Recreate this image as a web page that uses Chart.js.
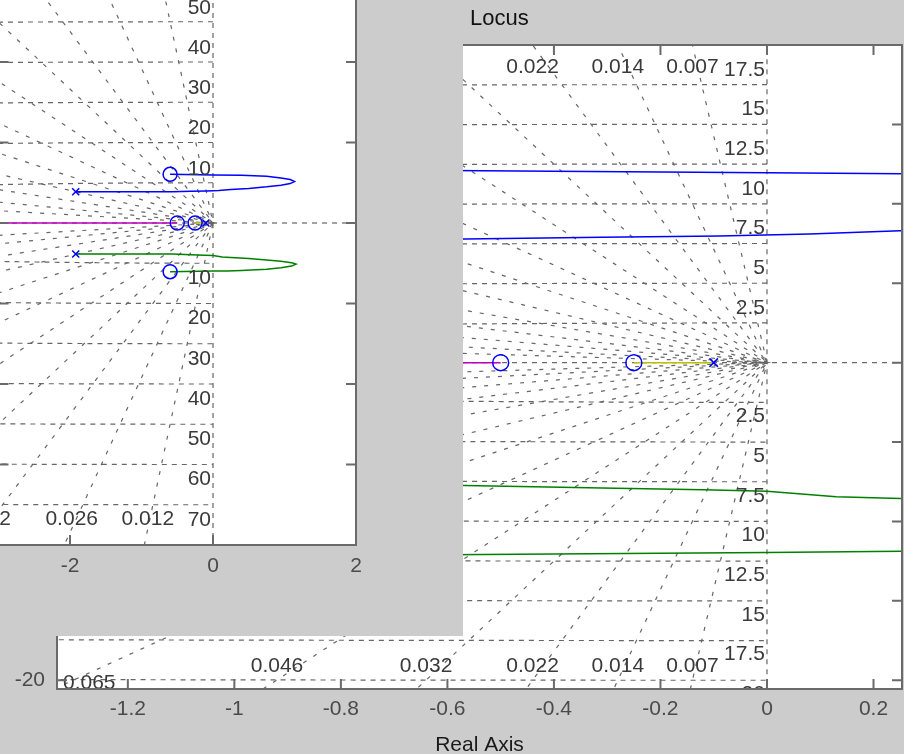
<!DOCTYPE html>
<html><head><meta charset="utf-8">
<script src="https://cdn.jsdelivr.net/npm/chart.js@4/dist/chart.umd.min.js"></script>
<style>
html,body{margin:0;padding:0;background:#cccccc;width:904px;height:754px;overflow:hidden;position:relative;}
#bigwrap{position:absolute;left:0;top:0;width:904px;height:754px;z-index:1;}
#cover{position:absolute;left:0;top:0;width:463px;height:636px;background:#cccccc;z-index:2;}
#smallwrap{position:absolute;left:-60px;top:-119px;width:430px;height:700px;z-index:3;}
#locus{position:absolute;left:470px;top:6px;font:22px "Liberation Sans",Arial,sans-serif;line-height:24px;color:#111;z-index:4;}
</style></head><body>
<div id="bigwrap"><canvas id="big" width="904" height="754"></canvas></div>
<div id="cover"></div>
<div id="smallwrap"><canvas id="small" width="430" height="700"></canvas></div>
<div id="locus">Locus</div>
<script>
const FONT = '"Liberation Sans", Arial, Helvetica, sans-serif';

// ---- root locus branches (real part, imaginary part) ----
const blueRe  = [-1.92,-1.2,-0.567,-0.31,-0.09,0.08,0.25,0.5,0.75,0.95,1.08,1.14,1.08,0.95,0.75,0.4,0.0,-0.6];
const blueIm  = [7.75,7.77,7.79,7.9,7.98,8.1,8.3,8.6,9.0,9.4,9.8,10.3,10.8,11.2,11.6,11.85,11.95,12.1];
const greenRe = [-1.92,-1.2,-0.567,-0.31,-0.12,0.0,0.13,0.25,0.5,0.75,0.95,1.1,1.16,1.1,0.95,0.75,0.4,0.2,0.0,-0.6];
const greenIm = [-7.7,-7.72,-7.73,-7.9,-8.0,-8.1,-8.45,-8.55,-8.8,-9.2,-9.5,-9.9,-10.2,-10.7,-11.1,-11.5,-11.8,-11.9,-11.95,-12.1];
const magentaRe = [-10,-0.5];
const magentaIm = [0,0];
const yellowRe  = [-0.25,-0.1];
const yellowIm  = [0,0];
const poleRe = [-1.92,-1.92,-0.1];
const poleIm = [7.75,-7.7,0];
const zeroRe = [-0.6,-0.6,-0.5,-0.25];
const zeroIm = [12.1,-12.1,0,0];

// ---- s-plane grid (natural frequency / damping) ----
const wnZoom = [2.5,5,7.5,10,12.5,15,17.5,20];
const wnZoomLabels = ['2.5','5','7.5','10','12.5','15','17.5','20'];
const zetaZoom = [0.007,0.014,0.022,0.032,0.046,0.065,0.09,0.125,0.17,0.24,0.34,0.5,0.7];
const zetaZoomLabels = ['0.007','0.014','0.022','0.032','0.046','0.065'];
const wnWide = [10,20,30,40,50,60,70,80];
const wnWideLabels = ['10','20','30','40','50','60','70','80'];
const zetaWide = [0.012,0.026,0.042,0.06,0.085,0.12,0.17,0.24,0.34,0.5,0.7];
const zetaWideLabels = ['0.012','0.026','0.042'];

// ---- axis ticks ----
const xTicksZoom = [-1.2,-1,-0.8,-0.6,-0.4,-0.2,0,0.2];
const yTicksZoom = [-20,-15,-10,-5,0,5,10,15,20];
const xTicksWide = [-2,0,2];
const yTicksWide = [-80,-60,-40,-20,0,20,40,60,80];

const pts = (re, im) => re.map((v, i) => ({x: v, y: im[i]}));
const fmt = v => String(Math.round(v * 1000) / 1000);

function buildSets(wnList, zetaList, R, mk) {
  const sets = [];
  sets.push({data: pts(poleRe, poleIm), showLine: false, pointStyle: 'crossRot', pointRadius: mk.x,
    pointBorderColor: '#0000ff', pointBackgroundColor: '#0000ff', pointBorderWidth: 1.5, order: 0});
  sets.push({data: pts(zeroRe, zeroIm), showLine: false, pointStyle: 'circle', pointRadius: mk.o,
    pointBorderColor: '#0000ff', pointBackgroundColor: 'rgba(0,0,0,0)', pointBorderWidth: 1.5, order: 0});
  const line = (re, im, c) => ({data: pts(re, im), showLine: true, pointRadius: 0, borderColor: c,
    borderWidth: 1.5, order: 1, tension: 0});
  sets.push(line(blueRe, blueIm, '#0000ff'), line(greenRe, greenIm, '#008000'),
            line(magentaRe, magentaIm, '#bf00bf'), line(yellowRe, yellowIm, '#bfbf00'));
  const g = {showLine: true, pointRadius: 0, borderColor: '#666666', borderWidth: 1.2, order: 2, tension: 0};
  wnList.forEach(wn => {
    const d = [];
    for (let k = 0; k <= 720; k++) {
      const t = Math.PI / 2 + Math.PI * k / 720;
      d.push({x: wn * Math.cos(t), y: wn * Math.sin(t)});
    }
    sets.push({...g, data: d, borderDash: [5, 5]});
  });
  zetaList.forEach(z => {
    const s = Math.sqrt(1 - z * z);
    sets.push({...g, data: [{x: -z * R, y: s * R}, {x: 0, y: 0}, {x: -z * R, y: -s * R}], borderDash: [4, 8]});
  });
  sets.push({...g, data: [{x: -1000, y: 0}, {x: 1000, y: 0}], borderDash: [5, 5]});
  sets.push({...g, data: [{x: 0, y: -1000}, {x: 0, y: 1000}], borderDash: [5, 5]});
  return sets;
}

const rlPlugin = {
  id: 'rl',
  beforeDraw(chart) {
    const {ctx, chartArea: a} = chart;
    ctx.save();
    ctx.fillStyle = '#ffffff';
    ctx.fillRect(a.left, a.top, a.right - a.left, a.bottom - a.top);
    ctx.restore();
  },
  afterDatasetsDraw(chart, args, o) {
    const {ctx, chartArea: a} = chart;
    const x = chart.scales.x, y = chart.scales.y;
    ctx.save();
    ctx.beginPath();
    ctx.rect(a.left, a.top, a.right - a.left, a.bottom - a.top);
    ctx.clip();
    ctx.font = '21px ' + FONT;
    ctx.fillStyle = '#3a3a3a';
    ctx.textBaseline = 'middle';
    ctx.textAlign = 'right';
    const x0 = x.getPixelForValue(0) - 2;
    o.wnVals.forEach((wn, i) => {
      ctx.fillText(o.wnText[i], x0, y.getPixelForValue(wn) - o.wnUp);
      ctx.fillText(o.wnText[i], x0, y.getPixelForValue(-wn) + o.wnDown);
    });
    ctx.textAlign = 'center';
    o.zText.forEach((t, i) => {
      const z = o.zVals[i];
      let px = x.getPixelForValue(-z * o.zR);
      let yb = y.getPixelForValue(-o.zRow) - o.zBotOff;
      if (o.zClamp) {
        const half = ctx.measureText(t).width / 2;
        if (px - half < a.left + 6) { px = a.left + 6 + half; yb += 17; }
      }
      ctx.fillText(t, px, y.getPixelForValue(o.zRow) + o.zTopOff);
      ctx.fillText(t, px, yb);
    });
    ctx.restore();
    // axes box with inward ticks
    ctx.save();
    ctx.strokeStyle = '#6a6a6a';
    ctx.lineWidth = 2;
    ctx.strokeRect(a.left, a.top, a.right - a.left, a.bottom - a.top);
    ctx.beginPath();
    o.xt.forEach(v => {
      const p = x.getPixelForValue(v);
      ctx.moveTo(p, a.bottom); ctx.lineTo(p, a.bottom - o.tl);
      ctx.moveTo(p, a.top); ctx.lineTo(p, a.top + o.tl);
    });
    o.yt.forEach(v => {
      const p = y.getPixelForValue(v);
      ctx.moveTo(a.left, p); ctx.lineTo(a.left + o.tl, p);
      ctx.moveTo(a.right, p); ctx.lineTo(a.right - o.tl, p);
    });
    ctx.stroke();
    ctx.restore();
  }
};

const noPadX = h => s => { s.height = h; s.paddingLeft = 0; s.paddingRight = 0; };
const noPadY = w => s => { s.width = w; s.paddingTop = 0; s.paddingBottom = 0; };

// ---- zoomed root locus (right and bottom) ----
new Chart(document.getElementById('big'), {
  type: 'scatter',
  data: {datasets: buildSets(wnZoom, zetaZoom, 40, {x: 6, o: 8})},
  plugins: [rlPlugin],
  options: {
    responsive: false, maintainAspectRatio: false, animation: false, events: [],
    layout: {autoPadding: false, padding: {top: 45, right: 2, left: 0, bottom: 0}},
    plugins: {
      legend: {display: false}, tooltip: {enabled: false},
      rl: {wnVals: wnZoom, wnText: wnZoomLabels, wnUp: 15, wnDown: 14,
           zVals: zetaZoom, zText: zetaZoomLabels, zR: 20, zRow: 20, zTopOff: 22, zBotOff: 14, zClamp: true,
           xt: xTicksZoom, yt: yTicksZoom, tl: 10}
    },
    scales: {
      x: {type: 'linear', min: -1.333, max: 0.2535,
          afterBuildTicks: s => { s.ticks = xTicksZoom.map(v => ({value: v})); },
          afterFit: noPadX(65),
          grid: {display: false, drawTicks: false}, border: {display: false},
          ticks: {font: {size: 21, family: FONT}, color: '#4a4a4a', padding: 8, maxRotation: 0, autoSkip: false, callback: fmt},
          title: {display: true, text: 'Real Axis', color: '#1a1a1a', font: {size: 21, family: FONT, lineHeight: 0.8}, padding: 0}},
      y: {type: 'linear', min: -20.55, max: 20,
          afterBuildTicks: s => { s.ticks = yTicksZoom.map(v => ({value: v})); },
          afterFit: noPadY(57),
          grid: {display: false, drawTicks: false}, border: {display: false},
          ticks: {font: {size: 21, family: FONT}, color: '#4a4a4a', padding: 12, autoSkip: false, callback: fmt}}
    }
  }
});

// ---- wide root locus (left window) ----
new Chart(document.getElementById('small'), {
  type: 'scatter',
  data: {datasets: buildSets(wnWide, zetaWide, 160, {x: 5, o: 7})},
  plugins: [rlPlugin],
  options: {
    responsive: false, maintainAspectRatio: false, animation: false, events: [],
    layout: {autoPadding: false, padding: {top: 20, right: 14, left: 58.5, bottom: 0}},
    plugins: {
      legend: {display: false}, tooltip: {enabled: false},
      rl: {wnVals: wnWide, wnText: wnWideLabels, wnUp: 14, wnDown: 15,
           zVals: zetaWide, zText: zetaWideLabels, zR: 76, zRow: 80, zTopOff: 26, zBotOff: 26, zClamp: false,
           xt: xTicksWide, yt: yTicksWide, tl: 10}
    },
    scales: {
      x: {type: 'linear', min: -3, max: 2,
          afterBuildTicks: s => { s.ticks = xTicksWide.map(v => ({value: v})); },
          afterFit: noPadX(36),
          grid: {display: false, drawTicks: false}, border: {display: false},
          ticks: {font: {size: 21, family: FONT}, color: '#4a4a4a', padding: 9, maxRotation: 0, autoSkip: false, callback: fmt}},
      y: {type: 'linear', min: -80, max: 80, display: false}
    }
  }
});
</script>
</body></html>
